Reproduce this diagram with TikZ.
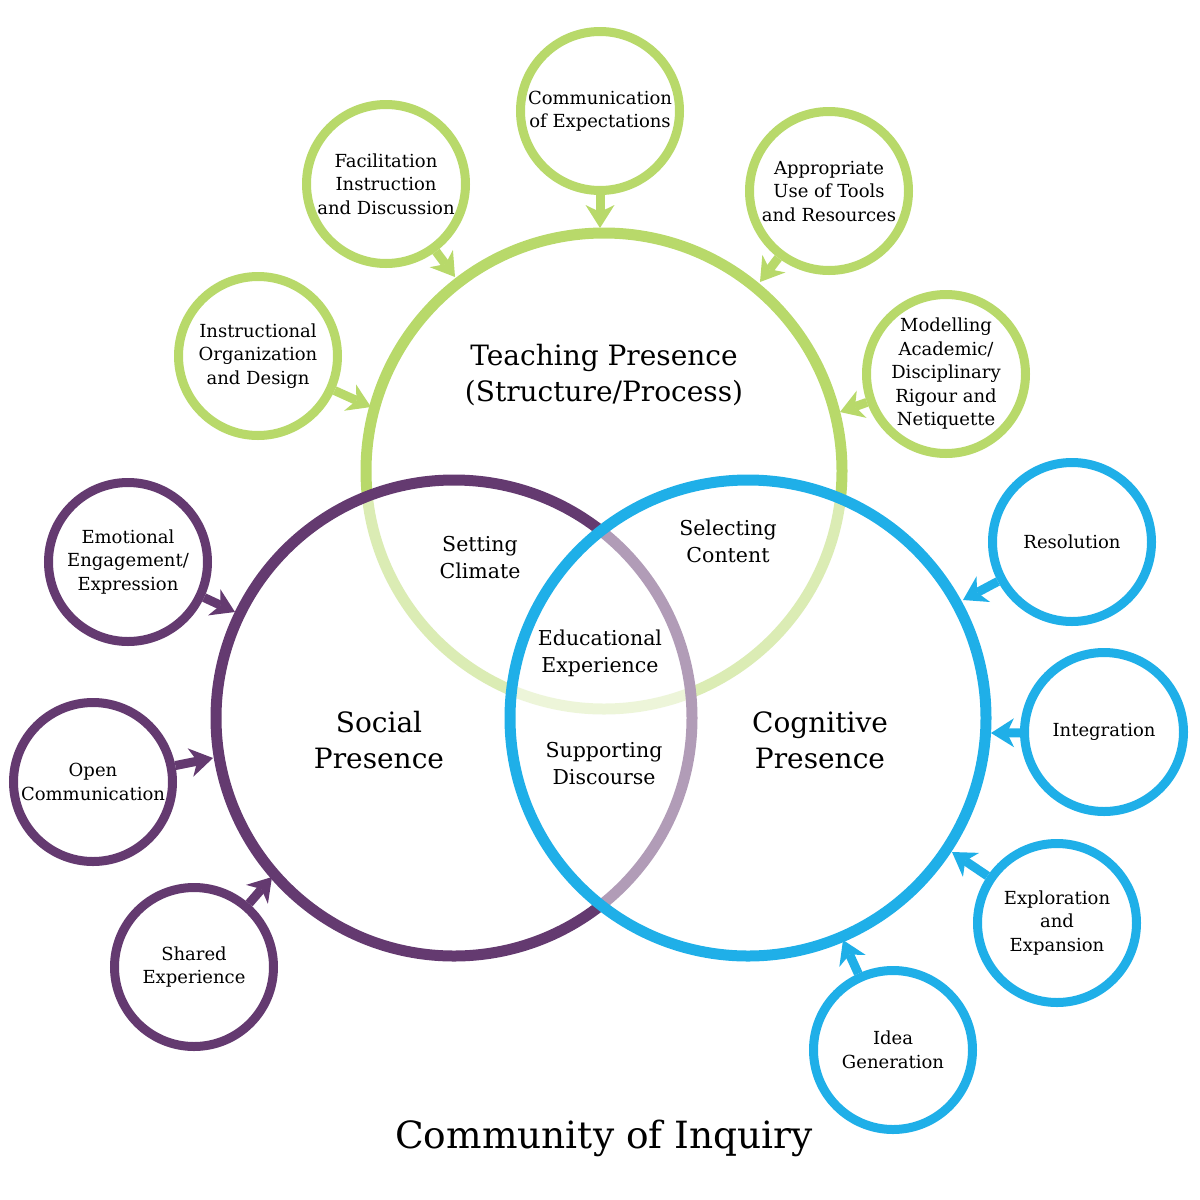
\documentclass[tikz,border=0pt]{standalone}
\usepackage{fontspec}
\setmainfont{DejaVu Serif}
\usetikzlibrary{arrows.meta}
\definecolor{tgreen}{RGB}{184,217,106}
\definecolor{spurple}{RGB}{100,58,112}
\definecolor{cblue}{RGB}{31,175,232}
\tikzset{
  bigcirc/.style={circle, minimum size=476pt, line width=11pt, inner sep=0pt},
  smallcirc/.style={circle, minimum size=159pt, line width=9pt, inner sep=0pt, fill=white,
    align=center, font=\fontsize{18}{23.5}\selectfont},
  midtxt/.style={align=center, font=\fontsize{20.5}{27}\selectfont, inner sep=0pt},
  bigtxt/.style={align=center, font=\fontsize{28}{36}\selectfont, inner sep=0pt},
  titletxt/.style={font=\fontsize{37.5}{44}\selectfont, inner sep=0pt},
  conn/.style={line width=9pt, -{Stealth[length=23pt,width=29pt,inset=7pt,line width=0pt]}},
}
\begin{document}
\begin{tikzpicture}[x=1pt,y=-1pt]
\useasboundingbox (0,0) rectangle (1200,1200);
% main circles
\node[bigcirc, draw=tgreen] (teach) at (604,471) {};
\node[bigcirc, draw=spurple, fill=white, fill opacity=0.5] (social) at (454,718) {};
\node[bigcirc, draw=cblue, fill=white, fill opacity=0.5] (cog) at (748,718) {};
% main labels
\node[bigtxt] (teachlbl) at (604,375) {Teaching Presence\\(Structure/Process)};
\node[bigtxt] (sociallbl) at (379,740) {Social\\Presence};
\node[bigtxt] (coglbl) at (820,740) {Cognitive\\Presence};
\node[midtxt] (climate) at (480,558) {Setting\\Climate};
\node[midtxt] (content) at (728,541) {Selecting\\Content};
\node[midtxt] (edu) at (600,653) {Educational\\Experience};
\node[midtxt] (disc) at (604,764) {Supporting\\Discourse};
\node[titletxt] (title) at (604,1138) {Community of Inquiry};
% teaching satellites
\node[smallcirc, draw=tgreen] (ce) at (600,111) {Communication\\of Expectations};
\node[smallcirc, draw=tgreen] (fi) at (386,184) {Facilitation\\Instruction\\and Discussion};
\node[smallcirc, draw=tgreen] (io) at (258,356) {Instructional\\Organization\\and Design};
\node[smallcirc, draw=tgreen] (au) at (829,191) {Appropriate\\Use of Tools\\and Resources};
\node[smallcirc, draw=tgreen] (ma) at (946,374) {Modelling\\Academic/\\Disciplinary\\Rigour and\\Netiquette};
% social satellites
\node[smallcirc, draw=spurple] (ee) at (128,562) {Emotional\\Engagement/\\Expression};
\node[smallcirc, draw=spurple] (oc) at (93,782) {Open\\Communication};
\node[smallcirc, draw=spurple] (se) at (194,967) {Shared\\Experience};
% cognitive satellites
\node[smallcirc, draw=cblue] (re) at (1072,542) {Resolution};
\node[smallcirc, draw=cblue] (in) at (1104,732) {Integration};
\node[smallcirc, draw=cblue] (ex) at (1057,923) {Exploration\\and\\Expansion};
\node[smallcirc, draw=cblue] (ig) at (893,1050) {Idea\\Generation};
% arrow tips on main circles
\coordinate (tce) at (600,228);
\coordinate (tfi) at (455,277);
\coordinate (tio) at (371,407);
\coordinate (tau) at (760,282);
\coordinate (tma) at (840,412);
\coordinate (tee) at (235,612);
\coordinate (toc) at (213,758);
\coordinate (tse) at (272,877);
\coordinate (tre) at (963,600);
\coordinate (tin) at (991,733);
\coordinate (tex) at (952,852);
\coordinate (tig) at (843,940);
\draw[conn, tgreen] (ce) -- (tce);
\draw[conn, tgreen] (fi) -- (tfi);
\draw[conn, tgreen] (io) -- (tio);
\draw[conn, tgreen] (au) -- (tau);
\draw[conn, tgreen] (ma) -- (tma);
\draw[conn, spurple] (ee) -- (tee);
\draw[conn, spurple] (oc) -- (toc);
\draw[conn, spurple] (se) -- (tse);
\draw[conn, cblue] (re) -- (tre);
\draw[conn, cblue] (in) -- (tin);
\draw[conn, cblue] (ex) -- (tex);
\draw[conn, cblue] (ig) -- (tig);
\end{tikzpicture}
\end{document}
